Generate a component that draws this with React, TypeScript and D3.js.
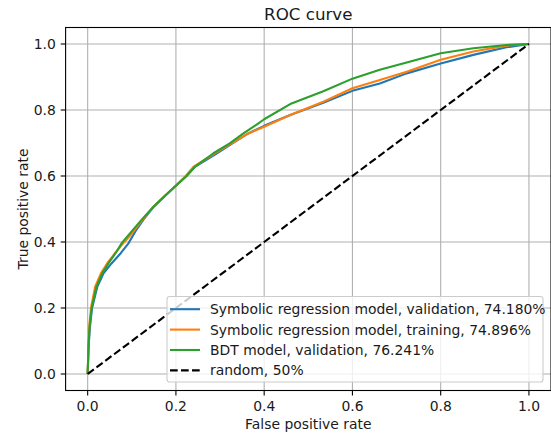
import * as d3 from 'd3';
import React from 'react';

// ROC curve points: [false positive rate, true positive rate]
const symbolicValidation: [number, number][] = [
  [0, 0], [0.002, 0.08], [0.005, 0.14], [0.01, 0.2], [0.022, 0.265], [0.036, 0.305],
  [0.054, 0.335], [0.075, 0.366], [0.092, 0.395], [0.108, 0.432], [0.126, 0.467],
  [0.15, 0.507], [0.176, 0.54], [0.198, 0.568], [0.224, 0.6], [0.243, 0.628],
  [0.293, 0.669], [0.328, 0.699], [0.364, 0.729], [0.4, 0.752], [0.459, 0.785],
  [0.534, 0.822], [0.6, 0.858], [0.662, 0.88], [0.723, 0.911], [0.8, 0.941],
  [0.874, 0.967], [0.949, 0.99], [1, 1],
];
const symbolicTraining: [number, number][] = [
  [0, 0], [0.002, 0.09], [0.004, 0.15], [0.0075, 0.2], [0.017, 0.265], [0.03, 0.305],
  [0.044, 0.335], [0.062, 0.366], [0.078, 0.392], [0.09, 0.41], [0.104, 0.432],
  [0.124, 0.467], [0.149, 0.507], [0.175, 0.54], [0.198, 0.568], [0.222, 0.6],
  [0.24, 0.628], [0.289, 0.669], [0.326, 0.699], [0.364, 0.729], [0.4, 0.749],
  [0.459, 0.785], [0.534, 0.825], [0.6, 0.866], [0.662, 0.891], [0.723, 0.916],
  [0.8, 0.952], [0.874, 0.977], [0.949, 0.995], [1, 1],
];
const bdtValidation: [number, number][] = [
  [0, 0], [0.002, 0.08], [0.004, 0.14], [0.009, 0.2], [0.02, 0.265], [0.033, 0.305],
  [0.047, 0.335], [0.063, 0.366], [0.078, 0.398], [0.092, 0.42], [0.106, 0.442],
  [0.124, 0.47], [0.149, 0.507], [0.175, 0.54], [0.198, 0.568], [0.224, 0.6],
  [0.243, 0.628], [0.285, 0.669], [0.322, 0.699], [0.353, 0.729], [0.383, 0.756],
  [0.4, 0.772], [0.459, 0.818], [0.534, 0.857], [0.6, 0.895], [0.662, 0.922],
  [0.723, 0.944], [0.8, 0.972], [0.874, 0.987], [0.949, 0.997], [1, 1],
];
const randomLine: [number, number][] = [[0, 0], [1, 1]];

const seriesLabels = [
  'Symbolic regression model, validation, 74.180%',
  'Symbolic regression model, training, 74.896%',
  'BDT model, validation, 76.241%',
  'random, 50%',
];
const ticks = [0, 0.2, 0.4, 0.6, 0.8, 1.0];

const params = {
  width: 551,
  height: 436,
  left: 65.6,
  right: 551,
  top: 27.5,
  bottom: 390.5,
  font: 'DejaVu Sans, sans-serif',
};

const App = () => {
  const x = d3.scaleLinear().domain([-0.05, 1.05]).range([params.left, params.right]);
  const y = d3.scaleLinear().domain([-0.05, 1.05]).range([params.bottom, params.top]);
  const line = d3.line<[number, number]>().x(d => x(d[0])).y(d => y(d[1]));

  const series = [
    { data: symbolicValidation, color: '#1f77b4', dash: undefined },
    { data: symbolicTraining, color: '#ff7f0e', dash: undefined },
    { data: bdtValidation, color: '#2ca02c', dash: undefined },
    { data: randomLine, color: '#000000', dash: '7.7,3.3' },
  ];

  const legend = { x: 167, y: 296.5, w: 376, h: 85.5 };

  return (
    <svg
      width={params.width}
      height={params.height}
      style={{ position: 'absolute', left: 0, top: 0, background: '#fff' }}
      fontFamily={params.font}
    >
      <defs>
        <clipPath id="plot">
          <rect x={params.left} y={params.top} width={params.right - params.left} height={params.bottom - params.top} />
        </clipPath>
      </defs>
      <rect width={params.width} height={params.height} fill="#fff" />

      {/* grid */}
      <g stroke="#b0b0b0" strokeWidth={1.1}>
        {ticks.map(t => (
          <line key={'gx' + t} x1={x(t)} x2={x(t)} y1={params.top} y2={params.bottom} />
        ))}
        {ticks.map(t => (
          <line key={'gy' + t} x1={params.left} x2={params.right} y1={y(t)} y2={y(t)} />
        ))}
      </g>

      {/* curves */}
      <g clipPath="url(#plot)" fill="none">
        {series.map((s, i) => (
          <path
            key={i}
            d={line(s.data) || ''}
            stroke={s.color}
            strokeWidth={2.1}
            strokeDasharray={s.dash}
            strokeLinejoin="round"
          />
        ))}
      </g>

      {/* spines */}
      <rect
        x={params.left}
        y={params.top}
        width={params.right - params.left}
        height={params.bottom - params.top}
        fill="none"
        stroke="#000"
        strokeWidth={1.1}
      />

      {/* ticks + labels */}
      <g fontSize={13.9} fill="#1a1a1a">
        {ticks.map(t => (
          <g key={'tx' + t}>
            <line x1={x(t)} x2={x(t)} y1={params.bottom} y2={params.bottom + 4.9} stroke="#000" strokeWidth={1.1} />
            <text x={x(t)} y={params.bottom + 20.5} textAnchor="middle">{t.toFixed(1)}</text>
          </g>
        ))}
        {ticks.map(t => (
          <g key={'ty' + t}>
            <line x1={params.left - 4.9} x2={params.left} y1={y(t)} y2={y(t)} stroke="#000" strokeWidth={1.1} />
            <text x={params.left - 9.8} y={y(t) + 5} textAnchor="end">{t.toFixed(1)}</text>
          </g>
        ))}
        <text x={(params.left + params.right) / 2} y={429} textAnchor="middle">False positive rate</text>
        <text transform={`translate(28,${(params.top + params.bottom) / 2}) rotate(-90)`} textAnchor="middle">
          True positive rate
        </text>
        <text x={(params.left + params.right) / 2} y={19.5} textAnchor="middle" fontSize={16.7}>ROC curve</text>
      </g>

      {/* legend */}
      <g>
        <rect
          x={legend.x}
          y={legend.y}
          width={legend.w}
          height={legend.h}
          rx={2.8}
          fill="#fff"
          fillOpacity={0.8}
          stroke="#cccccc"
          strokeWidth={1.1}
        />
        {series.map((s, i) => {
          const cy = legend.y + 12.7 + i * 20.4;
          return (
            <g key={'l' + i}>
              <line
                x1={legend.x + 3}
                x2={legend.x + 33}
                y1={cy}
                y2={cy}
                stroke={s.color}
                strokeWidth={2.1}
                strokeDasharray={s.dash}
              />
              <text x={legend.x + 43} y={cy + 5} fontSize={13.9} fill="#1a1a1a">{seriesLabels[i]}</text>
            </g>
          );
        })}
      </g>
    </svg>
  );
};

export default App;
